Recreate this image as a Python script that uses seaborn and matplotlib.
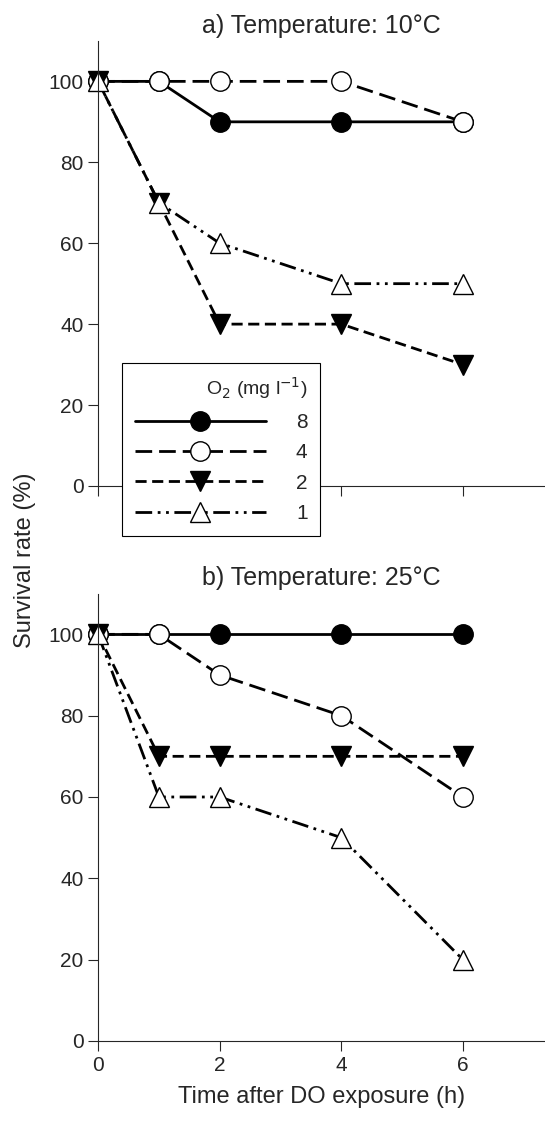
import matplotlib
matplotlib.use("Agg")
import matplotlib.pyplot as plt
import pandas as pd
import seaborn as sns
from matplotlib.lines import Line2D

time_h = [0, 1, 2, 4, 6]
oxygen_levels = ["8", "4", "2", "1"]
surv_10c = {
    "8": [100, 100, 90, 90, 90],
    "4": [100, 100, 100, 100, 90],
    "2": [100, 70, 40, 40, 30],
    "1": [100, 70, 60, 50, 50],
}
surv_25c = {
    "8": [100, 100, 100, 100, 100],
    "4": [100, 100, 90, 80, 60],
    "2": [100, 70, 70, 70, 70],
    "1": [100, 60, 60, 50, 20],
}

sns.set_style("ticks")
plt.rcParams["font.family"] = ["Liberation Sans", "DejaVu Sans"]

styles = {
    "8": dict(marker="o", mfc="black", ls="-"),
    "4": dict(marker="o", mfc="white", ls=(0, (6, 2.5))),
    "2": dict(marker="v", mfc="black", ls=(0, (4, 2))),
    "1": dict(marker="^", mfc="white", ls=(0, (6, 2, 1, 2, 1, 2))),
}

fig = plt.figure(figsize=(5.45, 11.21), dpi=100)
ax_a = fig.add_axes([0.18, 0.5665, 0.82, 0.397])
ax_b = fig.add_axes([0.18, 0.0714, 0.82, 0.399])

for ax, data, title in [(ax_a, surv_10c, "a) Temperature: 10°C"),
                        (ax_b, surv_25c, "b) Temperature: 25°C")]:
    for lvl in oxygen_levels:
        df = pd.DataFrame({"t": time_h, "s": data[lvl]})
        st = styles[lvl]
        sns.lineplot(data=df, x="t", y="s", ax=ax, color="black", lw=2,
                     marker=st["marker"], markersize=14, markerfacecolor=st["mfc"],
                     markeredgecolor="black", markeredgewidth=1, linestyle=st["ls"],
                     clip_on=False)
    ax.set_xlim(0, 7.35)
    ax.set_ylim(0, 110)
    ax.set_xticks([0, 2, 4, 6])
    ax.set_yticks([0, 20, 40, 60, 80, 100])
    ax.set_xlabel("")
    ax.set_ylabel("")
    ax.set_title(title, fontsize=18, pad=6)
    ax.tick_params(labelsize=15, length=7, direction="out", width=0.8)
    for s in ["top", "right"]:
        ax.spines[s].set_visible(False)
    for s in ["left", "bottom"]:
        ax.spines[s].set_linewidth(0.8)

ax_a.set_xticklabels([])
ax_b.set_xlabel("Time after DO exposure (h)", fontsize=17, labelpad=8)
fig.text(0.045, 0.5, "Survival rate (%)", rotation=90, fontsize=17, va="center", ha="center")

handles = []
for lvl in oxygen_levels:
    st = styles[lvl]
    handles.append(Line2D([], [], color="black", lw=2, marker=st["marker"], markersize=14,
                          markerfacecolor=st["mfc"], markeredgecolor="black",
                          linestyle=st["ls"]))
leg = fig.legend(handles, oxygen_levels, title="O$_2$ (mg l$^{-1}$)", loc="upper left",
                 bbox_to_anchor=(122 / 545, 1 - 363 / 1121), borderaxespad=0,
                 frameon=True, fancybox=False, framealpha=1,
                 edgecolor="black", fontsize=15, title_fontsize=14, handlelength=6.3,
                 handletextpad=1.45, labelspacing=0.55, borderpad=0.6, alignment="right")
leg.get_frame().set_linewidth(0.8)

fig.savefig("out.png", dpi=100)
